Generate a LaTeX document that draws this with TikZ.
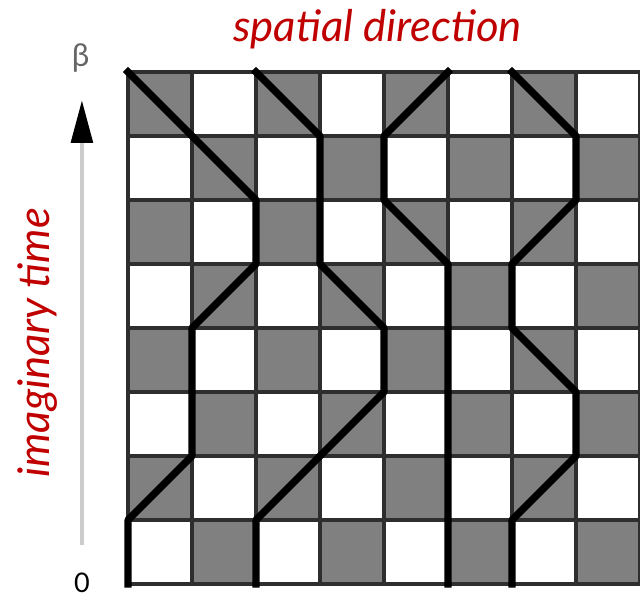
\documentclass[tikz,border=0pt]{standalone}
\usepackage{fontspec}
\setmainfont{Lato}
\usepackage{tikz}
\usetikzlibrary{arrows.meta}
\definecolor{LabelRed}{HTML}{C00000}
\definecolor{CellGray}{HTML}{808080}
\definecolor{GridDark}{HTML}{2E2E2E}
\definecolor{AxisGray}{HTML}{CCCCCC}
\tikzset{
  cell/.style={fill=CellGray},
  gridline/.style={draw=GridDark, line width=1.8pt},
  worldline/.style={draw=black, line width=3.2pt, line join=round, line cap=rect},
  axisarrow/.style={draw=AxisGray, line width=2pt, -{Triangle[length=19pt,width=9.5pt,black]}},
  redlabel/.style={text=LabelRed, font=\fontsize{19.4}{22}\selectfont\itshape, inner sep=0pt},
  endlabel/.style={font=\fontsize{12}{14}\selectfont, inner sep=0pt}
}
\begin{document}
\begin{tikzpicture}
  \useasboundingbox (-2,-0.21875) rectangle (8,9.125);
  % checkerboard
  \foreach \c in {0,...,7} {
    \foreach \r in {0,...,7} {
      \pgfmathtruncatemacro{\odd}{mod(\c+\r,2)}
      \ifnum\odd=1 \fill[cell] (\c,\r) rectangle ++(1,1); \fi
    }
  }
  \draw[gridline] (0,0) grid (8,8);
  % world lines
  \draw[worldline] (0,8) -- (2,6) -- (2,5) -- (1,4) -- (1,2) -- (0,1) -- (0,0);
  \draw[worldline] (2,8) -- (3,7) -- (3,5) -- (4,4) -- (4,3) -- (2,1) -- (2,0);
  \draw[worldline] (5,8) -- (4,7) -- (4,6) -- (5,5) -- (5,0);
  \draw[worldline] (6,8) -- (7,7) -- (7,6) -- (6,5) -- (6,4) -- (7,3) -- (7,2) -- (6,1) -- (6,0);
  % time axis
  \coordinate (tzero) at (-0.72,0.61);
  \coordinate (tbeta) at (-0.72,7.56);
  \draw[axisarrow] (tzero) -- (tbeta);
  \node[endlabel, text=black] (zero) at (-0.72,0.02) {0};
  \node[endlabel, text=black!60, font=\fontsize{14}{16}\selectfont] (beta) at (-0.74,8.22) {β};
  % labels
  \node[redlabel, anchor=base] (space) at (3.9,8.47) {spatial direction};
  \node[redlabel, anchor=base, rotate=90] (time) at (-1.22,3.77) {imaginary time};
\end{tikzpicture}
\end{document}
